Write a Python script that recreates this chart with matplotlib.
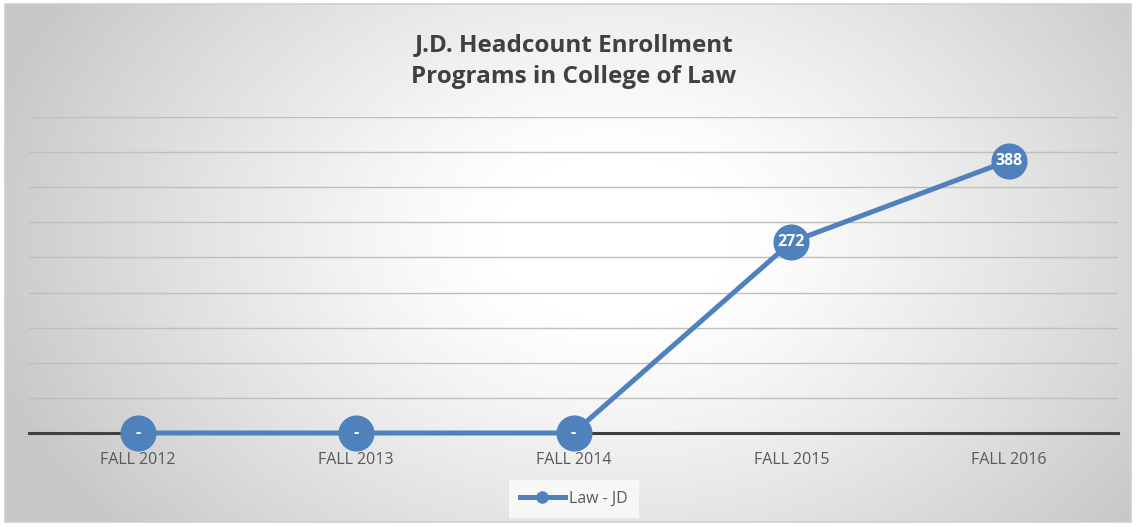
import numpy as np
import matplotlib
matplotlib.use("Agg")
import matplotlib.pyplot as plt
from matplotlib.patches import Rectangle
from matplotlib.lines import Line2D

categories = ["FALL 2012", "FALL 2013", "FALL 2014", "FALL 2015", "FALL 2016"]
values = [0, 0, 0, 272, 388]
labels = ["-", "-", "-", "272", "388"]
series_name = "Law - JD"
title = "J.D. Headcount Enrollment\nPrograms in College of Law"

W, H = 1137, 527
fig = plt.figure(figsize=(W / 100, H / 100), dpi=100)
fig.patch.set_facecolor("white")

# background gradient panel
bx0, by0, bx1, by1 = 5, 4, 1131, 522
bg = fig.add_axes([bx0 / W, 1 - by1 / H, (bx1 - bx0) / W, (by1 - by0) / H])
bg.set_axis_off()
yy, xx = np.mgrid[0:300, 0:600]
cx, cy = 0.54, 0.45
d = np.sqrt(((xx / 600 - cx) / 0.58) ** 2 + ((yy / 300 - cy) / 0.9) ** 2)
d = np.clip((d - 0.18) / 0.82, 0, 1)
v = 1.0 - 0.22 * d ** 1.2
img = np.dstack([v, v, v])
bg.imshow(img, aspect="auto", extent=[0, 1, 0, 1], interpolation="bilinear")
bg.set_xlim(0, 1); bg.set_ylim(0, 1)
bg.add_patch(Rectangle((0, 0), 1, 1, transform=bg.transAxes, fill=False,
                       edgecolor="#d0d0d0", linewidth=1.2, clip_on=False))

# main axes
ax0, ay_top, ax1, ay_bot = 29, 117, 1118, 433
ax = fig.add_axes([ax0 / W, 1 - ay_bot / H, (ax1 - ax0) / W, (ay_bot - ay_top) / H])
ax.patch.set_alpha(0)
x = np.arange(len(categories))
ax.set_xlim(-0.5, len(categories) - 0.5)
ax.set_ylim(0, 450)
ax.set_yticks(np.arange(0, 451, 50))
ax.yaxis.grid(True, color="#bfbfbf", linewidth=1.0)
ax.set_axisbelow(True)
ax.tick_params(axis="y", left=False, labelleft=False)
ax.tick_params(axis="x", bottom=False, labelsize=11.5, labelcolor="#595959", pad=10)
ax.set_xticks(x)
ax.set_xticklabels(categories, family="Open Sans")
for s in ["top", "right", "left"]:
    ax.spines[s].set_visible(False)
ax.spines["bottom"].set_color("#404040")
ax.spines["bottom"].set_linewidth(2.2)
ax.spines["bottom"].set_zorder(1)

ax.plot(x, values, color="#4F81BD", linewidth=3.6, marker="o",
        markersize=25, markerfacecolor="#4F81BD", markeredgecolor="#4F81BD",
        zorder=3, clip_on=False, label=series_name)
for xi, yi, lab in zip(x, values, labels):
    ax.text(xi, yi, lab, ha="center", va="center", color="white",
            fontsize=11.5, fontweight="bold", family="Open Sans", zorder=4)

fig.text(574 / W, 1 - 61 / H, title, ha="center", va="center", fontsize=17.5,
         fontweight="bold", color="#404040", family="Open Sans", linespacing=1.45)

h = Line2D([0], [0], color="#4F81BD", linewidth=3.6, marker="o", markersize=8)
leg = fig.legend([h], [series_name], loc="center", bbox_to_anchor=(574 / W, 1 - 499 / H),
                 frameon=True, handlelength=2.8, handletextpad=0.3,
                 prop={"family": "Open Sans", "size": 11.5})
leg.get_frame().set_facecolor("#f7f7f7")
leg.get_frame().set_edgecolor("none")
leg.get_frame().set_alpha(1)
leg.get_frame().set_boxstyle("square", pad=0.3)
for t in leg.get_texts():
    t.set_color("#595959")

fig.savefig("out.png", dpi=100)
